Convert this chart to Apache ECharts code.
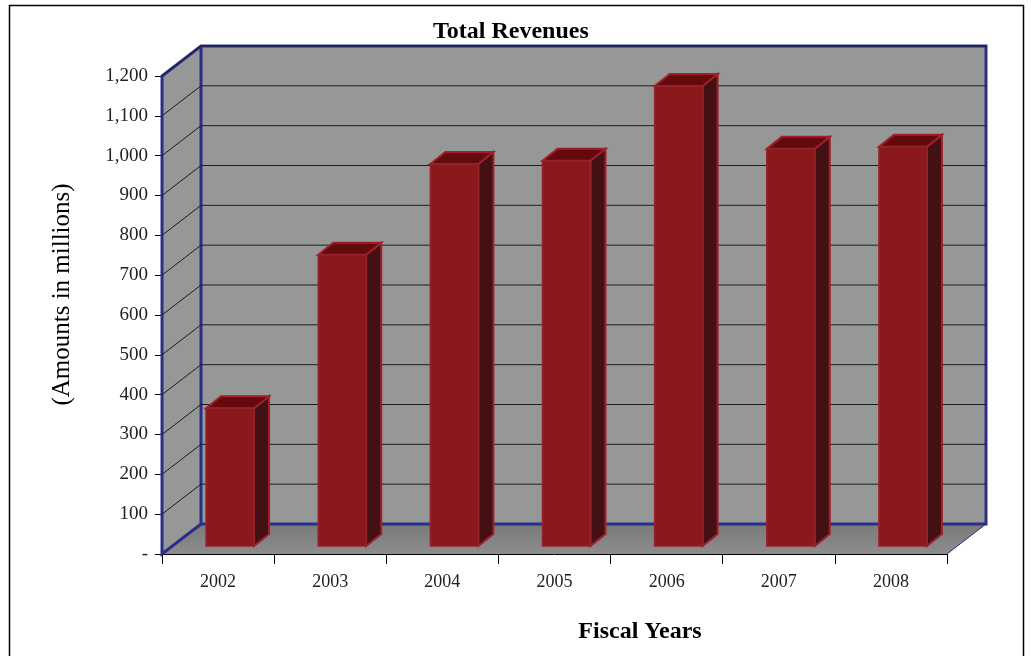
<!DOCTYPE html>
<html><head><meta charset="utf-8">
<style>html,body{margin:0;padding:0;background:#fff}#c{width:1031px;height:656px}</style>
<script src="https://cdn.jsdelivr.net/npm/echarts@6/dist/echarts.min.js"></script>
</head><body><div id="c"></div>
<script>
const categories = ['2002','2003','2004','2005','2006','2007','2008'];
const revenues = [346, 731, 959, 967, 1155, 997, 1002];
const gridValues = [100,200,300,400,500,600,700,800,900,1000,1100,1200];
const titleText = 'Total Revenues';
const yAxisTitle = '(Amounts in millions)';
const xAxisTitle = 'Fiscal Years';

const FONT = '"Liberation Serif", serif';
const DX = 39, DY = -30;
const BDX0 = 12, BDY0 = -8;
const BDX = 15, BDY = -12;
const BLUE = '#2b2e88';

function wallItem(params, api) {
  const c = params.coordSys;
  const xl = c.x, xr = c.x + c.width, yt = c.y, yb = c.y + c.height;
  const poly = (pts, style) => ({type:'polygon', shape:{points:pts}, style});
  const line = (pts, w) => ({type:'polyline', shape:{points:pts}, style:{stroke:BLUE, lineWidth:w, fill:null}});
  const gray = '#969897';
  return {type:'group', children:[
    poly([[xl+DX,yt+DY],[xr+DX,yt+DY],[xr+DX,yb+DY],[xl+DX,yb+DY]], {fill:gray}),
    poly([[xl,yt],[xl+DX,yt+DY],[xl+DX,yb+DY],[xl,yb]], {fill:gray}),
    poly([[xl,yb],[xl+DX,yb+DY],[xr+DX,yb+DY],[xr,yb]], {fill:new echarts.graphic.LinearGradient(0,0,0,1,[{offset:0,color:'#7a7a7a'},{offset:1,color:'#8c8c8c'}])}),
    line([[xl+DX,yb+DY],[xr+DX,yb+DY],[xr+DX,yt+DY],[xl+DX,yt+DY],[xl,yt],[xl,yb],[xl+DX,yb+DY]], 3),
    line([[xl+DX,yt+DY],[xl+DX,yb+DY]], 3),
    line([[xr+DX,yb+DY],[xr,yb]], 1)
  ]};
}
function gridItem(params, api) {
  const c = params.coordSys;
  const y = api.coord([0, api.value(0)])[1];
  return {type:'polyline', shape:{points:[[c.x,y],[c.x+DX,y+DY],[c.x+c.width+DX,y+DY]]},
    style:{stroke:'#1c1c1c', lineWidth:1, fill:null}};
}
function barItem(params, api) {
  const idx = api.value(0);
  const top = api.coord([idx, api.value(1)]);
  const bot = api.coord([idx, 0]);
  const hw = api.size([1,0])[0] * 0.214;
  const l = top[0]-hw+BDX0, r = top[0]+hw+BDX0, t = top[1]+BDY0, b = bot[1]+BDY0;
  const edge = '#a01f2a';
  const st = f => ({fill:f, stroke:edge, lineWidth:2});
  return {type:'group', children:[
    {type:'polygon', shape:{points:[[r,t],[r+BDX,t+BDY],[r+BDX,b+BDY],[r,b]]}, style:st('#431113')},
    {type:'polygon', shape:{points:[[l,t],[l+BDX,t+BDY],[r+BDX,t+BDY],[r,t]]}, style:st('#640a0d')},
    {type:'polygon', shape:{points:[[l,t],[r,t],[r,b],[l,b]]}, style:{fill:'#8b191c', stroke:'#962329', lineWidth:1.5}}
  ]};
}

const chart = echarts.init(document.getElementById('c'), null, {renderer:'canvas'});
chart.setOption({
  animation:false,
  backgroundColor:'#fff',
  title:{text:titleText, left:428, top:15,
    textStyle:{fontFamily:FONT, fontSize:24, fontWeight:'bold', color:'#000'}},
  grid:{left:162, top:76, width:785, height:478, containLabel:false},
  xAxis:{type:'category', data:categories, boundaryGap:true,
    axisLine:{lineStyle:{color:'#000', width:1}},
    axisTick:{show:true, length:10, alignWithLabel:false, lineStyle:{color:'#000'}},
    axisLabel:{fontFamily:FONT, fontSize:18, color:'#222', margin:19},
    splitLine:{show:false}},
  yAxis:{type:'value', min:0, max:1200, interval:100,
    axisLine:{show:false},
    axisTick:{show:true, length:7, lineStyle:{color:'#000'}},
    axisLabel:{fontFamily:FONT, fontSize:19, color:'#222', margin:14,
      formatter:v=> v===0 ? '-' : v.toLocaleString('en-US')},
    splitLine:{show:false}},
  series:[
    {type:'custom', name:'walls', z:1, silent:true, data:[[0]], renderItem:wallItem, encode:{x:-1,y:-1}},
    {type:'custom', name:'grid', z:2, silent:true, data:gridValues.map(v=>[v]), renderItem:gridItem, encode:{y:0,x:-1}},
    {type:'custom', name:'Total Revenues', z:3, data:revenues.map((v,i)=>[i,v]), renderItem:barItem, encode:{x:0,y:1}}
  ],
  graphic:[
    {type:'rect', silent:true, z:0, shape:{x:9.5,y:5.5,width:1014,height:660},
      style:{fill:null, stroke:'#000', lineWidth:1.5}},
    {type:'text', silent:true, z:5, x:640, y:632, style:{text:xAxisTitle, align:'center', verticalAlign:'middle',
      font:'bold 24px "Liberation Serif", serif', fill:'#000'}},
    {type:'text', silent:true, z:5, x:62, y:294.5, rotation:Math.PI/2, style:{text:yAxisTitle, align:'center', verticalAlign:'middle',
      font:'25px "Liberation Serif", serif', fill:'#000'}}
  ]
});
</script></body></html>
